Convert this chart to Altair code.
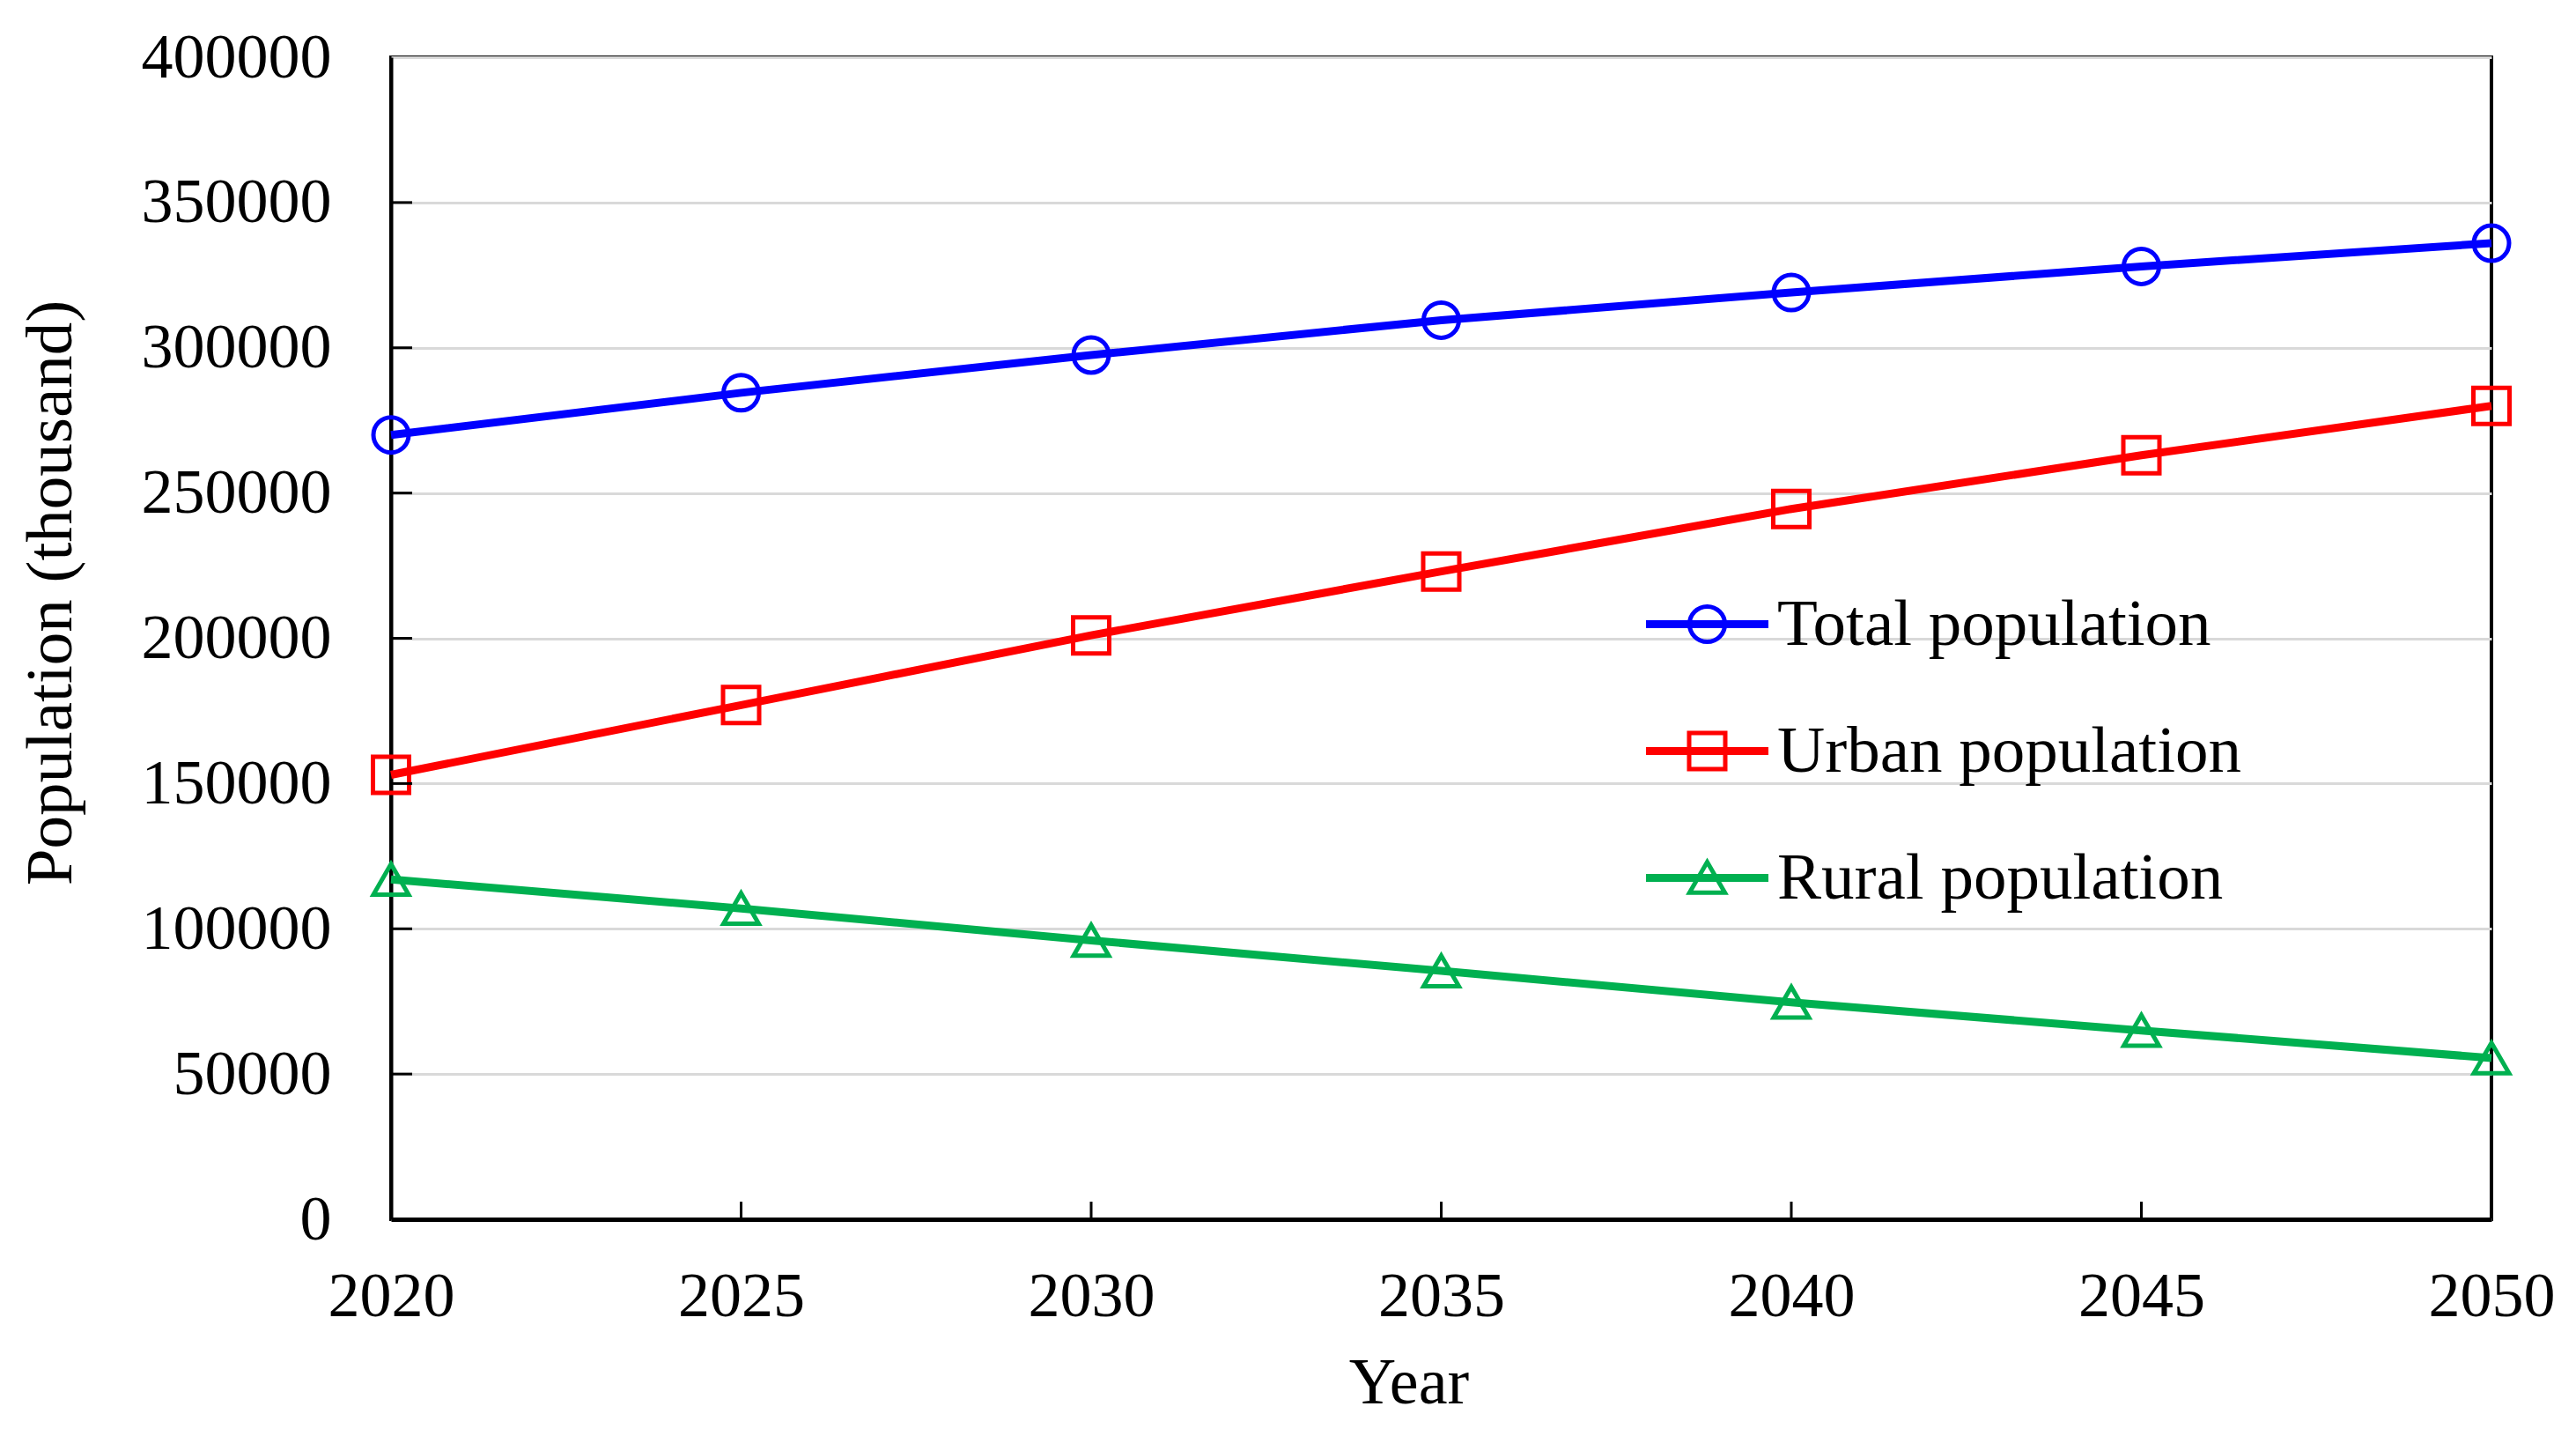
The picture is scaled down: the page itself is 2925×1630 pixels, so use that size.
import altair as alt
import pandas as pd

years = [2020, 2025, 2030, 2035, 2040, 2045, 2050]
total = [270000, 284500, 297500, 309500, 319000, 328000, 336000]
urban = [153000, 177000, 201000, 223000, 244500, 263000, 280000]
rural = [117000, 107000, 96000, 85500, 74700, 65000, 55500]

series_names = ["Total population", "Urban population", "Rural population"]
series_colors = ["#0000ff", "#ff0000", "#00b050"]
series_shapes = ["circle", "square", "triangle-up"]

x_ticks = [2020, 2025, 2030, 2035, 2040, 2045, 2050]
y_ticks = [0, 50000, 100000, 150000, 200000, 250000, 300000, 350000, 400000]

# legend symbols: a short line with the marker drawn over it (unit box -1..1)
BAR = "M-1,-0.03L1,-0.03L1,0.03L-1,0.03Z"
legend_paths = [
    BAR + "M-0.3,0A0.3,0.3 0 1,1 0.3,0A0.3,0.3 0 1,1 -0.3,0Z",
    BAR + "M-0.306,-0.306L0.306,-0.306L0.306,0.306L-0.306,0.306Z",
    BAR + "M0,-0.27L0.3,0.25L-0.3,0.25Z",
]

rows = []
for name, vals in zip(series_names, [total, urban, rural]):
    for yr, v in zip(years, vals):
        rows.append({"Year": yr, "Population": v, "Series": name})
df = pd.DataFrame(rows)

W, H = 2385, 1319
FONT = "Liberation Serif"
FS = 72

x_scale = alt.Scale(domain=[2020, 2050], nice=False, zero=False)
y_scale = alt.Scale(domain=[0, 400000], nice=False)
c_scale = alt.Scale(domain=series_names, range=series_colors)

x_axis = alt.Axis(values=x_ticks, format="d", ticks=False, tickSize=0, labelPadding=52,
                  labelFlush=False, labelLimit=1000, maxExtent=400,
                  title="Year", titlePadding=27, titleX=W / 2 - 37, titleFontSize=74,
                  grid=False, domainColor="black", domainWidth=5)
y_axis = alt.Axis(values=y_ticks, format="d", ticks=False, tickSize=0, labelPadding=68,
                  labelFlush=False, labelLimit=1000, maxExtent=400,
                  title="Population (thousand)", titlePadding=62, titleFontSize=75,
                  titleX=-348, titleY=H / 2 - 52, titleBaseline="bottom",
                  grid=True, gridColor="#d9d9d9", gridWidth=3, domainColor="black", domainWidth=4)

X = alt.X("Year:Q", scale=x_scale, axis=x_axis)
Y = alt.Y("Population:Q", scale=y_scale, axis=y_axis)

leg_props = dict(title=None, orient="none", legendX=1425, legendY=574,
                 symbolSize=17956, symbolStrokeWidth=5,
                 labelFont=FONT, labelFontSize=75, labelOffset=10, labelColor="black",
                 rowPadding=36, padding=0, labelLimit=1500)

legend_layer = alt.Chart(df).transform_filter("false").mark_point(filled=False, strokeWidth=5, opacity=1).encode(
    color=alt.Color("Series:N", scale=c_scale, legend=alt.Legend(**leg_props)),
    shape=alt.Shape("Series:N", scale=alt.Scale(domain=series_names, range=legend_paths),
                    legend=alt.Legend(**leg_props)),
)

lines = alt.Chart(df).mark_line(strokeWidth=9).encode(
    x=X, y=Y,
    color=alt.Color("Series:N", scale=c_scale),
)

marker_layers = []
for name, shp, sz in zip(series_names, series_shapes, [1600, 1681, 1600]):
    marker_layers.append(
        alt.Chart(df).transform_filter(alt.datum.Series == name)
        .mark_point(shape=shp, filled=False, strokeWidth=5, size=sz, opacity=1)
        .encode(x=X, y=Y, color=alt.Color("Series:N", scale=c_scale))
    )

xt = alt.Chart(pd.DataFrame({"Year": x_ticks[1:-1]})).mark_rule(color="black", strokeWidth=3).encode(
    x=X, y=alt.value(H), y2=alt.value(H - 20),
)
yt = alt.Chart(pd.DataFrame({"Population": y_ticks[1:-1]})).mark_rule(color="black", strokeWidth=3).encode(
    y=Y, x=alt.value(0), x2=alt.value(24),
)

chart = alt.layer(legend_layer, lines, *marker_layers, xt, yt).properties(
    width=W, height=H,
    padding={"left": 12, "top": 21, "right": 5, "bottom": 5},
).configure_view(
    stroke="black", strokeWidth=4
).configure_axis(
    labelFont=FONT, labelFontSize=FS, titleFont=FONT, titleFontSize=FS,
    labelColor="black", titleColor="black", titleFontWeight="normal",
).configure_legend(
    labelFont=FONT, labelFontSize=75,
)

chart.save("out.html", embed_options={"renderer": "svg", "actions": False})
